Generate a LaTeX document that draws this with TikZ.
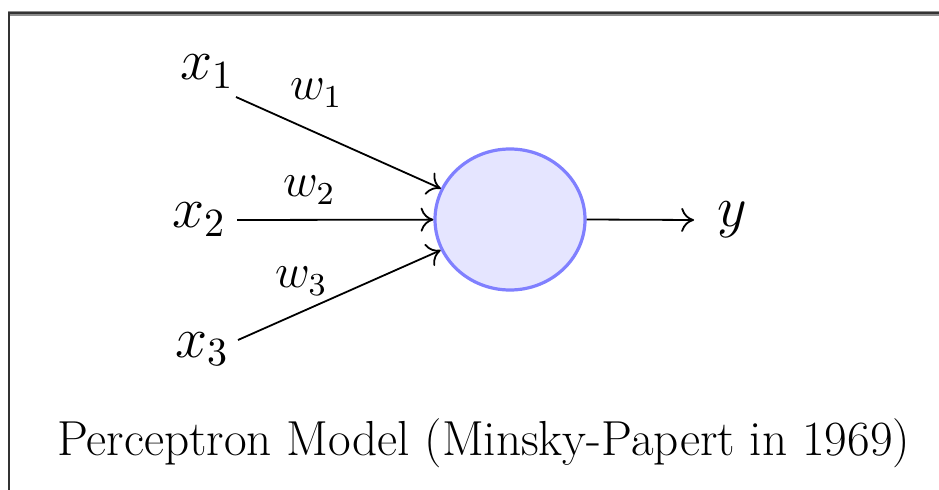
\documentclass[tikz,border=0pt]{standalone}
\usetikzlibrary{shapes.geometric,arrows.meta}
\begin{document}
\begin{tikzpicture}[x=0.25pt,y=-0.25pt,
  lbl/.style={anchor=base west,inner sep=0pt,outer sep=0pt},
  inlbl/.style={lbl,font=\fontsize{13.7}{16}\selectfont},
  wlbl/.style={lbl,font=\fontsize{11.7}{14}\selectfont},
  neuron/.style={ellipse,draw=blue!50,fill=blue!10,line width=0.8pt,
    minimum width=37.5pt,minimum height=35.25pt,inner sep=0pt},
  conn/.style={-{To[length=3.2pt,width=6pt]},line width=0.45pt}]
  \useasboundingbox (0,0) rectangle (939,490);
  % frame: ruled top edge and left edge
  \draw[line width=1.25pt,black!45] (8,13.5) -- (939,13.5);
  \draw[line width=0.5pt,black!80] (8,13.5) -- (939,13.5);
  \draw[line width=0.35pt,black!80] (8.8,12) -- (8.8,490);
  % inputs, weights and output
  \node[inlbl] (x1) at (180,80) {$x_1$};
  \node[inlbl] (x2) at (172,228) {$x_2$};
  \node[inlbl] (x3) at (175,357) {$x_3$};
  \node[wlbl] (w1) at (290,100) {$w_1$};
  \node[wlbl] (w2) at (283,197) {$w_2$};
  \node[wlbl] (w3) at (275,288) {$w_3$};
  \node[neuron] (n) at (510,219.5) {};
  \node[inlbl] (y) at (717,227) {$y$};
  % connector ends
  \coordinate (s1) at (236,97);
  \coordinate (s2) at (237,220);
  \coordinate (s3) at (238,340);
  \coordinate (t) at (694,220);
  \draw[conn] (s1) -- (n);
  \draw[conn] (s2) -- (n);
  \draw[conn] (s3) -- (n);
  \draw[conn] (n.east) -- (t);
  \node[lbl] (cap) at (57,455)
    {\resizebox{213.25pt}{!}{\fontsize{17.28}{20}\selectfont Perceptron Model (Minsky-Papert in 1969)}};
\end{tikzpicture}
\end{document}
